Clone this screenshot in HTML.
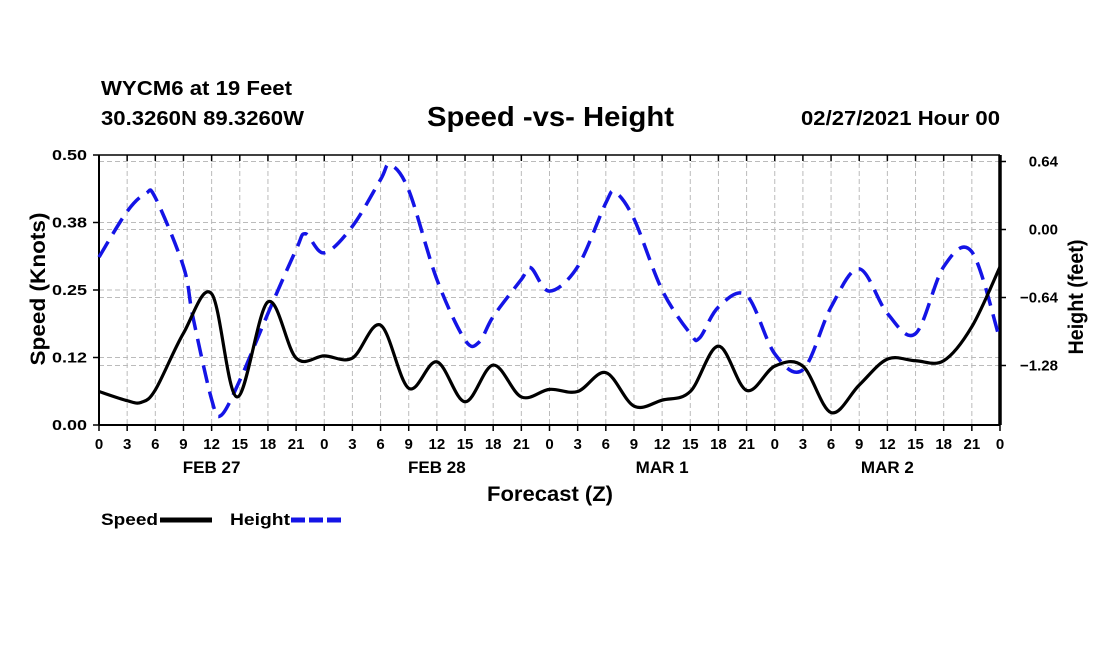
<!DOCTYPE html>
<html><head><meta charset="utf-8"><style>
body{margin:0;background:#fff;}
svg text{font-family:"Liberation Sans",sans-serif;font-weight:bold;fill:#000;}
</style></head><body>
<svg id="chart" width="1100" height="650" xmlns="http://www.w3.org/2000/svg">
<text x="101" y="95" font-size="20" textLength="191" lengthAdjust="spacingAndGlyphs">WYCM6 at 19 Feet</text>
<text x="101" y="125" font-size="20" textLength="203" lengthAdjust="spacingAndGlyphs">30.3260N 89.3260W</text>
<text x="427" y="126" font-size="28" textLength="247" lengthAdjust="spacingAndGlyphs">Speed -vs- Height</text>
<text x="801" y="125" font-size="20" textLength="199" lengthAdjust="spacingAndGlyphs">02/27/2021 Hour 00</text>
<g id="grid"></g><g id="axes"></g><g id="series"></g>
<text transform="translate(45,289) rotate(-90)" font-size="21" text-anchor="middle" textLength="153" lengthAdjust="spacingAndGlyphs">Speed (Knots)</text>
<text transform="translate(1083,297) rotate(-90)" font-size="21" text-anchor="middle" textLength="115" lengthAdjust="spacingAndGlyphs">Height (feet)</text>
<text x="487" y="501" font-size="21" textLength="126" lengthAdjust="spacingAndGlyphs">Forecast (Z)</text>
<g>
<text x="101" y="525" font-size="17" textLength="57" lengthAdjust="spacingAndGlyphs">Speed</text>
<line x1="160" y1="520" x2="212" y2="520" stroke="#000" stroke-width="5"/>
<text x="230" y="525" font-size="17" textLength="60" lengthAdjust="spacingAndGlyphs">Height</text>
<line x1="291" y1="520" x2="343" y2="520" stroke="#1414e6" stroke-width="5" stroke-dasharray="14,4"/>
</g>
</svg>
<script>
const hours=[0,3,6,9,12,15,18,21,24,27,30,33,36,39,42,45,48,51,54,57,60,63,66,69,72,75,78,81,84,87,90,93,96];
const hourLabels=["0","3","6","9","12","15","18","21","0","3","6","9","12","15","18","21","0","3","6","9","12","15","18","21","0","3","6","9","12","15","18","21","0"];
const dayLabels=["FEB 27","FEB 28","MAR 1","MAR 2"];
const speedTicks=[0,0.125,0.25,0.375,0.5];
const speedTickLabels=["0.00","0.12","0.25","0.38","0.50"];
const heightTicks=[0.64,0,-0.64,-1.28];
const heightTickLabels=["0.64","0.00","\u22120.64","\u22121.28"];
const speedHours=[0,3,4.5,6,9,12,14.7,18,21,24,27,30,33,36,39,42,45,48,51,54,57,60,63,66,69,72,75,78,81,84,87,90,93,96];
const speedVals=[0.062,0.045,0.042,0.065,0.17,0.243,0.052,0.228,0.124,0.128,0.124,0.185,0.068,0.117,0.043,0.111,0.052,0.066,0.062,0.097,0.035,0.046,0.062,0.146,0.064,0.109,0.109,0.023,0.074,0.122,0.119,0.119,0.182,0.293];
const heightHours=[0,3,5,6,9,10,12,13,15,18,21,22,24,27,30,31,33,36,39,40.5,42,45,46,48,51,54,55,57,60,63,64,66,69,72,75,78,81,84,87,90,93,96];
const heightVals=[-0.26,0.17,0.34,0.30,-0.35,-0.82,-1.6,-1.75,-1.42,-0.79,-0.19,-0.04,-0.22,0.03,0.47,0.61,0.37,-0.47,-1.04,-1.06,-0.82,-0.47,-0.36,-0.58,-0.35,0.25,0.35,0.10,-0.57,-0.98,-1.02,-0.73,-0.62,-1.17,-1.32,-0.73,-0.37,-0.79,-0.98,-0.35,-0.21,-1.04];

const NS="http://www.w3.org/2000/svg";
const X0=99,X1=1000,Y0=425,Y1=155;
const xs=h=>X0+(X1-X0)*h/96;
const ys=v=>Y0-(Y0-Y1)*v/0.5;
const yh=v=>229.5-106.25*v;
function mk(tag,attrs,parent){const e=document.createElementNS(NS,tag);for(const k in attrs)e.setAttribute(k,attrs[k]);parent.appendChild(e);return e;}
const grid=document.getElementById('grid'),axes=document.getElementById('axes'),ser=document.getElementById('series');
hours.forEach((h,i)=>{
 if(i>0&&i<hours.length-1){const l=mk('line',{x1:xs(h),x2:xs(h),y1:Y1,y2:Y0,stroke:'#bbb','stroke-width':1,'stroke-dasharray':'5,3'},grid);
 
 }
 const t=mk('line',{x1:xs(h),x2:xs(h),y1:Y0,y2:Y0+6,stroke:'#000','stroke-width':1.5},axes);
 
 
 const t2=mk('line',{x1:xs(h),x2:xs(h),y1:Y1,y2:Y1+6,stroke:'#000','stroke-width':1.5},axes);
 
 
 const tx=mk('text',{x:xs(h),y:449,'font-size':15,'text-anchor':'middle'},axes);tx.textContent=hourLabels[i];
 
 
});
dayLabels.forEach((d,i)=>{const t=mk('text',{x:xs(12+24*i),y:473,'font-size':17,'text-anchor':'middle'},axes);t.textContent=d;
 
 });
speedTicks.forEach((v,i)=>{
 if(v>0&&v<0.5){const l=mk('line',{x1:X0,x2:X1,y1:ys(v),y2:ys(v),stroke:'#bbb','stroke-width':1,'stroke-dasharray':'5,3'},grid);
 
 }
 const t=mk('line',{x1:X0-6,x2:X0,y1:ys(v),y2:ys(v),stroke:'#000','stroke-width':1.5},axes);
 
 
 const tx=mk('text',{x:X0-12,y:ys(v)+5,'font-size':15,'text-anchor':'end',textLength:35,lengthAdjust:'spacingAndGlyphs'},axes);tx.textContent=speedTickLabels[i];
 
 
});
heightTicks.forEach((v,i)=>{
 const l=mk('line',{x1:X0,x2:X1,y1:yh(v),y2:yh(v),stroke:'#bbb','stroke-width':1,'stroke-dasharray':'5,3'},grid);
 
 
 const t=mk('line',{x1:X1,x2:X1+6,y1:yh(v),y2:yh(v),stroke:'#000','stroke-width':1.5},axes);
 
 
 const tx=mk('text',{x:1058,y:yh(v)+5,'font-size':15,'text-anchor':'end'},axes);tx.textContent=heightTickLabels[i];
 
 
});
const frame=[['x-axis',X0,Y0,X1,Y0,2],['top-border',X0,Y1,X1,Y1,1.5],['y-axis-left',X0,Y1,X0,Y0,2],['y-axis-right',X1,Y1,X1,Y0,3.5]];
frame.forEach(f=>{const l=mk('line',{x1:f[1],y1:f[2],x2:f[3],y2:f[4],stroke:'#000','stroke-width':f[5]},axes);
 
 });
function path(pts){let d=`M${pts[0][0]},${pts[0][1]}`;
 for(let i=0;i<pts.length-1;i++){const p0=pts[Math.max(i-1,0)],p1=pts[i],p2=pts[i+1],p3=pts[Math.min(i+2,pts.length-1)];
 d+=` C${p1[0]+(p2[0]-p0[0])/6},${p1[1]+(p2[1]-p0[1])/6} ${p2[0]-(p3[0]-p1[0])/6},${p2[1]-(p3[1]-p1[1])/6} ${p2[0]},${p2[1]}`;}
 return d;}
const hp=mk('path',{d:path(heightHours.map((h,i)=>[xs(h),yh(heightVals[i])])),fill:'none',stroke:'#1414e6','stroke-width':3.5,'stroke-dasharray':'18,9'},ser);


const sp=mk('path',{d:path(speedHours.map((h,i)=>[xs(h),ys(speedVals[i])])),fill:'none',stroke:'#000','stroke-width':3.2},ser);


</script>
</body></html>
